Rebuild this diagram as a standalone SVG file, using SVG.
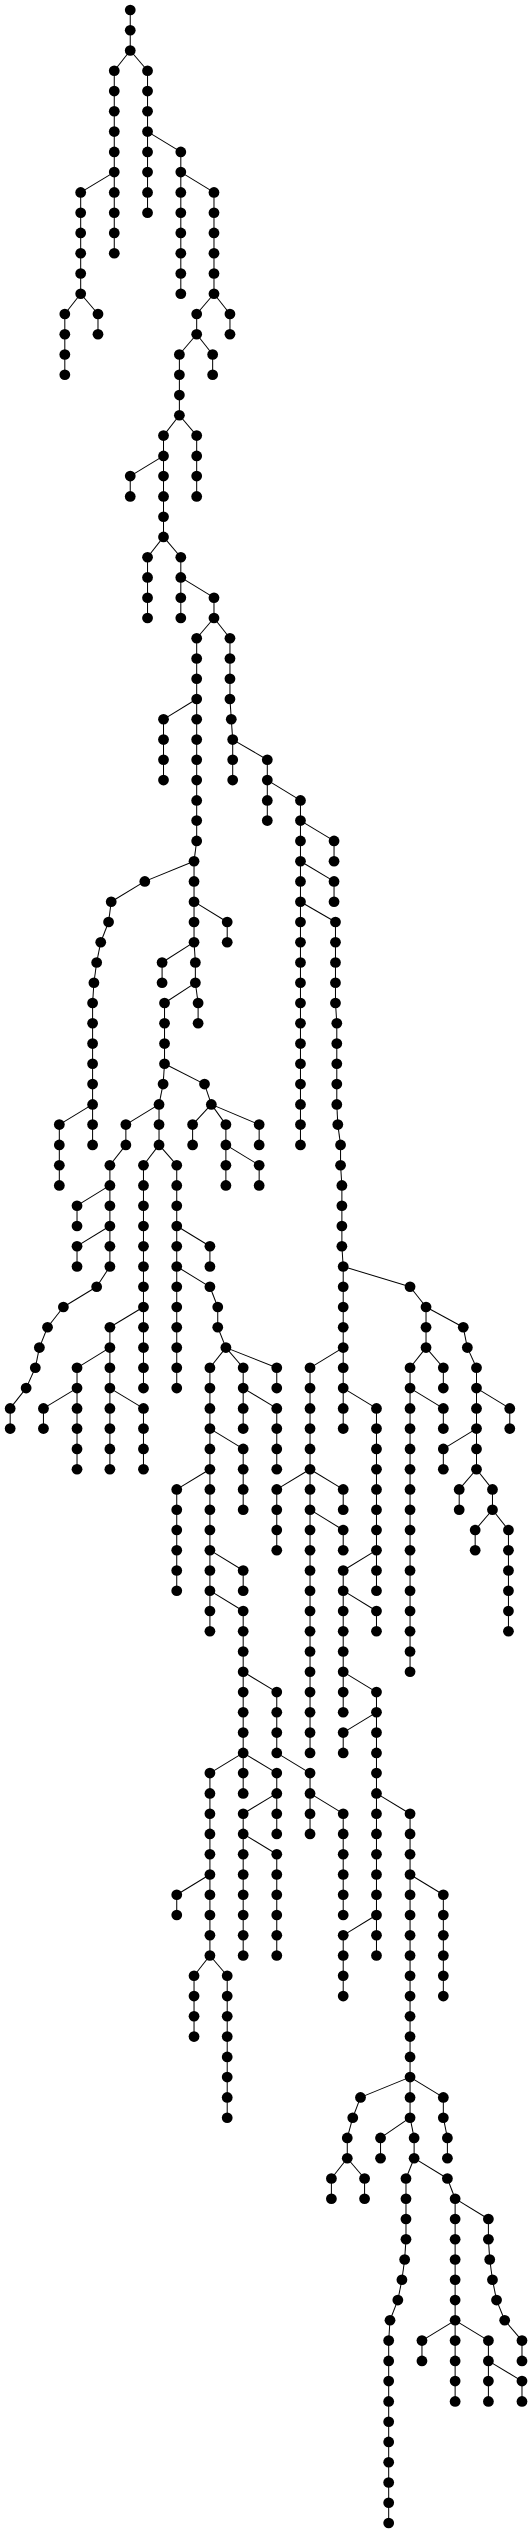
<svg xmlns="http://www.w3.org/2000/svg" width="532" height="2533" viewBox="0 0 532 2533">
<style>
rect.bg{fill:#fff}
#edges path{fill:none;stroke:#000;stroke-width:1}
circle{fill:#000;stroke:none;r:5.3px}
</style>
<rect class="bg" width="532" height="2533"/>
<g id="graph" transform="scale(1.0175 1)">
<g id="edges">
<path d="M128 10L128 30.3"/><path d="M128 30.3L128 50.5"/>
<path d="M128 50.5L112.3 70.8"/><path d="M128 50.5L145 70.8"/>
<path d="M112.3 70.8L112.3 91.1"/><path d="M145 70.8L145 91.1"/>
<path d="M112.3 91.1L112.3 111.3"/><path d="M145 91.1L145 111.3"/>
<path d="M112.3 111.3L112.3 131.6"/><path d="M145 111.3L145 131.6"/>
<path d="M112.3 131.6L112.3 151.9"/><path d="M145 131.6L145 151.9"/><path d="M145 131.6L177.7 151.9"/>
<path d="M112.3 151.9L112.3 172.1"/><path d="M145 151.9L145 172.1"/><path d="M177.7 151.9L177.7 172.1"/>
<path d="M112.3 172.1L79.3 192.4"/><path d="M112.3 172.1L112.3 192.4"/><path d="M145 172.1L145 192.4"/><path d="M177.7 172.1L177.7 192.4"/><path d="M177.7 172.1L210.3 192.4"/>
<path d="M79.3 192.4L79.3 212.7"/><path d="M112.3 192.4L112.3 212.7"/><path d="M145 192.4L145 212.7"/><path d="M177.7 192.4L177.7 212.7"/><path d="M210.3 192.4L210.3 212.7"/>
<path d="M79.3 212.7L79.3 232.9"/><path d="M112.3 212.7L112.3 232.9"/><path d="M177.7 212.7L177.7 232.9"/><path d="M210.3 212.7L210.3 232.9"/>
<path d="M79.3 232.9L79.3 253.2"/><path d="M112.3 232.9L112.3 253.2"/><path d="M177.7 232.9L177.7 253.2"/><path d="M210.3 232.9L210.3 253.2"/>
<path d="M79.3 253.2L79.3 273.5"/><path d="M177.7 253.2L177.7 273.5"/><path d="M210.3 253.2L210.3 273.5"/>
<path d="M79.3 273.5L79.3 293.7"/><path d="M177.7 273.5L177.7 293.7"/><path d="M210.3 273.5L210.3 293.7"/>
<path d="M79.3 293.7L63.7 314"/><path d="M79.3 293.7L96.3 314"/><path d="M210.3 293.7L193.3 314"/><path d="M210.3 293.7L226 314"/>
<path d="M63.7 314L63.7 334.3"/><path d="M96.3 314L96.3 334.3"/><path d="M193.3 314L193.3 334.3"/><path d="M226 314L226 334.3"/>
<path d="M63.7 334.3L63.7 354.5"/><path d="M193.3 334.3L176.3 354.5"/><path d="M193.3 334.3L209 354.5"/>
<path d="M63.7 354.5L63.7 374.8"/><path d="M176.3 354.5L176.3 374.8"/><path d="M209 354.5L209 374.8"/>
<path d="M176.3 374.8L176.3 395.1"/><path d="M176.3 395.1L176.3 415.3"/>
<path d="M176.3 415.3L160.7 435.6"/><path d="M176.3 415.3L193.3 435.6"/>
<path d="M160.7 435.6L160.7 455.9"/><path d="M193.3 435.6L193.3 455.9"/>
<path d="M160.7 455.9L128 476.1"/><path d="M160.7 455.9L160.7 476.1"/><path d="M193.3 455.9L193.3 476.1"/>
<path d="M128 476.1L128 496.4"/><path d="M160.7 476.1L160.7 496.4"/><path d="M193.3 476.1L193.3 496.4"/>
<path d="M160.7 496.4L160.7 516.7"/><path d="M160.7 516.7L160.7 536.9"/>
<path d="M160.7 536.9L145 557.2"/><path d="M160.7 536.9L177.7 557.2"/>
<path d="M145 557.2L145 577.4"/><path d="M177.7 557.2L177.7 577.4"/>
<path d="M145 577.4L145 597.7"/><path d="M177.7 577.4L177.7 597.7"/><path d="M177.7 577.4L210.3 597.7"/>
<path d="M145 597.7L145 618"/><path d="M177.7 597.7L177.7 618"/><path d="M210.3 597.7L210.3 618"/>
<path d="M210.3 618L193.3 638.2"/><path d="M210.3 618L226 638.2"/>
<path d="M193.3 638.2L193.3 658.5"/><path d="M226 638.2L226 658.5"/>
<path d="M193.3 658.5L193.3 678.8"/><path d="M226 658.5L226 678.8"/>
<path d="M193.3 678.8L193.3 699"/><path d="M226 678.8L226 699"/>
<path d="M193.3 699L160.7 719.3"/><path d="M193.3 699L193.3 719.3"/><path d="M226 699L227.3 719.3"/>
<path d="M160.7 719.3L160.7 739.6"/><path d="M193.3 719.3L193.3 739.6"/><path d="M227.3 719.3L228.7 739.6"/>
<path d="M160.7 739.6L160.7 759.8"/><path d="M193.3 739.6L193.3 759.8"/><path d="M228.7 739.6L228.7 759.8"/><path d="M228.7 739.6L262.7 759.8"/>
<path d="M160.7 759.8L160.7 780.1"/><path d="M193.3 759.8L193.3 780.1"/><path d="M228.7 759.8L228.7 780.1"/><path d="M262.7 759.8L262.7 780.1"/>
<path d="M193.3 780.1L193.3 800.4"/><path d="M262.7 780.1L262.7 800.4"/><path d="M262.7 780.1L295.3 800.4"/>
<path d="M193.3 800.4L193.3 820.6"/><path d="M262.7 800.4L262.7 820.6"/><path d="M295.3 800.4L295.3 820.6"/>
<path d="M193.3 820.6L193.3 840.9"/><path d="M295.3 820.6L295.3 840.9"/><path d="M295.3 820.6L328.3 840.9"/>
<path d="M193.3 840.9L190.7 861.2"/><path d="M295.3 840.9L295.3 861.2"/><path d="M328.3 840.9L328.3 861.2"/>
<path d="M190.7 861.2L142.3 881.4"/><path d="M190.7 861.2L190.7 881.4"/><path d="M295.3 861.2L295.3 881.4"/><path d="M295.3 861.2L328.3 881.4"/>
<path d="M142.3 881.4L109.3 901.7"/><path d="M190.7 881.4L190.7 901.7"/><path d="M295.3 881.4L295.3 901.7"/><path d="M328.3 881.4L328.3 901.7"/>
<path d="M109.3 901.7L106.7 922"/><path d="M190.7 901.7L190.7 922"/><path d="M190.7 901.7L223.3 922"/><path d="M295.3 901.7L295.3 922"/><path d="M295.3 901.7L329.7 922"/>
<path d="M106.7 922L99 942.2"/><path d="M190.7 922L190.7 942.2"/><path d="M223.3 922L223.3 942.2"/><path d="M295.3 922L295.3 942.2"/><path d="M329.7 922L329.7 942.2"/>
<path d="M99 942.2L95 962.5"/><path d="M190.7 942.2L159.3 962.5"/><path d="M190.7 942.2L192 962.5"/><path d="M295.3 942.2L295.3 962.5"/><path d="M329.7 942.2L329.7 962.5"/>
<path d="M95 962.5L92.3 982.8"/><path d="M159.3 962.5L159.3 982.8"/><path d="M192 962.5L192 982.8"/><path d="M295.3 962.5L295.3 982.8"/><path d="M329.7 962.5L329.7 982.8"/>
<path d="M92.3 982.8L91 1003"/><path d="M192 982.8L161.7 1003"/><path d="M192 982.8L194.7 1003"/><path d="M295.3 982.8L295.3 1003"/><path d="M329.7 982.8L329.7 1003"/>
<path d="M91 1003L91 1023.3"/><path d="M161.7 1003L161.7 1023.3"/><path d="M194.7 1003L194.7 1023.3"/><path d="M295.3 1003L295.3 1023.3"/><path d="M329.7 1003L331 1023.3"/>
<path d="M91 1023.3L91 1043.6"/><path d="M161.7 1023.3L161.7 1043.6"/><path d="M295.3 1023.3L295.3 1043.6"/><path d="M331 1023.3L331 1043.6"/>
<path d="M91 1043.6L91 1063.8"/><path d="M161.7 1043.6L161.7 1063.8"/><path d="M295.3 1043.6L295.3 1063.8"/><path d="M331 1043.6L331 1063.8"/>
<path d="M91 1063.8L91 1084.1"/><path d="M161.7 1063.8L160.3 1084.1"/><path d="M161.7 1063.8L201 1084.1"/><path d="M295.3 1063.8L295.3 1084.1"/><path d="M331 1063.8L331 1084.1"/>
<path d="M91 1084.1L91 1104.4"/><path d="M160.3 1084.1L156.3 1104.4"/><path d="M201 1084.1L207.7 1104.4"/><path d="M295.3 1084.1L295.3 1104.4"/><path d="M331 1084.1L331 1104.4"/>
<path d="M91 1104.4L58.3 1124.6"/><path d="M91 1104.4L91 1124.6"/><path d="M156.3 1104.4L123.7 1124.6"/><path d="M156.3 1104.4L156.3 1124.6"/><path d="M207.7 1104.4L189.3 1124.6"/><path d="M207.7 1104.4L222 1124.6"/><path d="M207.7 1104.4L254.7 1124.6"/><path d="M295.3 1104.4L295.3 1124.6"/><path d="M331 1104.4L332 1124.6"/>
<path d="M58.3 1124.6L58.3 1144.9"/><path d="M91 1124.6L91 1144.9"/><path d="M123.7 1124.6L123.7 1144.9"/><path d="M156.3 1124.6L156.3 1144.9"/><path d="M189.3 1124.6L189.3 1144.9"/><path d="M222 1124.6L222 1144.9"/><path d="M254.7 1124.6L254.7 1144.9"/><path d="M295.3 1124.6L295.3 1144.9"/><path d="M332 1124.6L334.7 1144.9"/>
<path d="M58.3 1144.9L58.3 1165.2"/><path d="M123.7 1144.9L108 1165.2"/><path d="M156.3 1144.9L141 1165.2"/><path d="M156.3 1144.9L173.7 1165.2"/><path d="M222 1144.9L222 1165.2"/><path d="M222 1144.9L254.7 1165.2"/><path d="M334.7 1144.9L334.7 1165.2"/>
<path d="M58.3 1165.2L58.3 1185.4"/><path d="M108 1165.2L108 1185.4"/><path d="M141 1165.2L141 1185.4"/><path d="M173.7 1165.2L173.7 1185.4"/><path d="M222 1165.2L222 1185.4"/><path d="M254.7 1165.2L254.7 1185.4"/><path d="M334.7 1165.2L336 1185.4"/>
<path d="M108 1185.4L75.7 1205.7"/><path d="M108 1185.4L108 1205.7"/><path d="M141 1185.4L141 1205.7"/><path d="M173.7 1185.4L173.7 1205.7"/><path d="M336 1185.4L336 1205.7"/>
<path d="M75.7 1205.7L75.7 1226"/><path d="M108 1205.7L108 1226"/><path d="M141 1205.7L141 1226"/><path d="M173.7 1205.7L173.7 1226"/><path d="M336 1205.7L336 1226"/>
<path d="M108 1226L75.7 1246.2"/><path d="M108 1226L108 1246.2"/><path d="M141 1226L141 1246.2"/><path d="M173.7 1226L173.7 1246.2"/><path d="M173.7 1226L206.3 1246.2"/><path d="M336 1226L336 1246.2"/>
<path d="M75.7 1246.2L75.7 1266.5"/><path d="M108 1246.2L108 1266.5"/><path d="M141 1246.2L141 1266.5"/><path d="M173.7 1246.2L173.7 1266.5"/><path d="M206.3 1246.2L206.3 1266.5"/><path d="M336 1246.2L337.3 1266.5"/>
<path d="M108 1266.5L95 1286.8"/><path d="M141 1266.5L141 1286.8"/><path d="M173.7 1266.5L173.7 1286.8"/><path d="M173.7 1266.5L206.3 1286.8"/><path d="M337.3 1266.5L337.3 1286.8"/><path d="M337.3 1266.5L403 1286.8"/>
<path d="M95 1286.8L62.3 1307"/><path d="M141 1286.8L141 1307"/><path d="M173.7 1286.8L173.7 1307"/><path d="M206.3 1286.8L214 1307"/><path d="M337.3 1286.8L337.3 1307"/><path d="M403 1286.8L418.7 1307"/>
<path d="M62.3 1307L46.7 1327.3"/><path d="M141 1307L108 1327.3"/><path d="M141 1307L141 1327.3"/><path d="M173.7 1307L173.7 1327.3"/><path d="M214 1307L214 1327.3"/><path d="M337.3 1307L337.3 1327.3"/><path d="M418.7 1307L418.7 1327.3"/><path d="M418.7 1307L455.3 1327.3"/>
<path d="M46.7 1327.3L38.7 1347.6"/><path d="M108 1327.3L108 1347.6"/><path d="M141 1327.3L141 1347.6"/><path d="M173.7 1327.3L173.7 1347.6"/><path d="M214 1327.3L222 1347.6"/><path d="M337.3 1327.3L337.3 1347.6"/><path d="M418.7 1327.3L418.7 1347.6"/><path d="M455.3 1327.3L459.3 1347.6"/>
<path d="M38.7 1347.6L34.7 1367.8"/><path d="M108 1347.6L75.7 1367.8"/><path d="M108 1347.6L108 1367.8"/><path d="M141 1347.6L141 1367.8"/><path d="M173.7 1347.6L173.7 1367.8"/><path d="M222 1347.6L206.3 1367.8"/><path d="M222 1347.6L239 1367.8"/><path d="M222 1347.6L272 1367.8"/><path d="M337.3 1347.6L304.7 1367.8"/><path d="M337.3 1347.6L337.3 1367.8"/><path d="M418.7 1347.6L403 1367.8"/><path d="M418.7 1347.6L435.7 1367.8"/><path d="M459.3 1347.6L468.3 1367.8"/>
<path d="M34.7 1367.8L25.7 1388.1"/><path d="M75.7 1367.8L75.7 1388.1"/><path d="M108 1367.8L108 1388.1"/><path d="M141 1367.8L141 1388.1"/><path d="M173.7 1367.8L173.7 1388.1"/><path d="M206.3 1367.8L206.3 1388.1"/><path d="M239 1367.8L239 1388.1"/><path d="M272 1367.8L272 1388.1"/><path d="M304.7 1367.8L304.7 1388.1"/><path d="M337.3 1367.8L337.3 1388.1"/><path d="M403 1367.8L403 1388.1"/><path d="M435.7 1367.8L435.7 1388.1"/><path d="M468.3 1367.8L468.3 1388.1"/>
<path d="M25.7 1388.1L10 1408.4"/><path d="M75.7 1388.1L42.7 1408.4"/><path d="M75.7 1388.1L75.7 1408.4"/><path d="M108 1388.1L108 1408.4"/><path d="M108 1388.1L141 1408.4"/><path d="M206.3 1388.1L206.3 1408.4"/><path d="M239 1388.1L239 1408.4"/><path d="M239 1388.1L272 1408.4"/><path d="M304.7 1388.1L304.7 1408.4"/><path d="M337.3 1388.1L337.3 1408.4"/><path d="M337.3 1388.1L370 1408.4"/><path d="M403 1388.1L403 1408.4"/><path d="M403 1388.1L435.7 1408.4"/><path d="M468.3 1388.1L468.3 1408.4"/><path d="M468.3 1388.1L501 1408.4"/>
<path d="M10 1408.4L10 1428.6"/><path d="M42.7 1408.4L42.7 1428.6"/><path d="M75.7 1408.4L75.7 1428.6"/><path d="M108 1408.4L108 1428.6"/><path d="M141 1408.4L141 1428.6"/><path d="M206.3 1408.4L206.3 1428.6"/><path d="M239 1408.4L239 1428.6"/><path d="M272 1408.4L272 1428.6"/><path d="M304.7 1408.4L304.7 1428.6"/><path d="M337.3 1408.4L337.3 1428.6"/><path d="M370 1408.4L370 1428.6"/><path d="M403 1408.4L403 1428.6"/><path d="M435.7 1408.4L435.7 1428.6"/><path d="M468.3 1408.4L468.3 1428.6"/><path d="M501 1408.4L501 1428.6"/>
<path d="M75.7 1428.6L75.7 1448.9"/><path d="M108 1428.6L108 1448.9"/><path d="M141 1428.6L141 1448.9"/><path d="M206.3 1428.6L206.3 1448.9"/><path d="M206.3 1428.6L239 1448.9"/><path d="M272 1428.6L272 1448.9"/><path d="M304.7 1428.6L304.7 1448.9"/><path d="M370 1428.6L370 1448.9"/><path d="M403 1428.6L403 1448.9"/><path d="M468.3 1428.6L435.7 1448.9"/><path d="M468.3 1428.6L468.3 1448.9"/>
<path d="M75.7 1448.9L75.7 1469.2"/><path d="M108 1448.9L108 1469.2"/><path d="M141 1448.9L141 1469.2"/><path d="M206.3 1448.9L206.3 1469.2"/><path d="M239 1448.9L239 1469.2"/><path d="M272 1448.9L272 1469.2"/><path d="M304.7 1448.9L304.7 1469.2"/><path d="M370 1448.9L370 1469.2"/><path d="M403 1448.9L403 1469.2"/><path d="M435.7 1448.9L435.7 1469.2"/><path d="M468.3 1448.9L468.3 1469.2"/>
<path d="M206.3 1469.2L173.7 1489.4"/><path d="M206.3 1469.2L206.3 1489.4"/><path d="M239 1469.2L239 1489.4"/><path d="M304.7 1469.2L272 1489.4"/><path d="M304.7 1469.2L304.7 1489.4"/><path d="M304.7 1469.2L337.3 1489.4"/><path d="M370 1469.2L370 1489.4"/><path d="M403 1469.2L403 1489.4"/><path d="M468.3 1469.2L451.3 1489.4"/><path d="M468.3 1469.2L484 1489.4"/>
<path d="M173.7 1489.4L173.7 1509.7"/><path d="M206.3 1489.4L206.3 1509.7"/><path d="M239 1489.4L239 1509.7"/><path d="M272 1489.4L272 1509.7"/><path d="M304.7 1489.4L304.7 1509.7"/><path d="M337.3 1489.4L337.3 1509.7"/><path d="M370 1489.4L370 1509.7"/><path d="M403 1489.4L403 1509.7"/><path d="M451.3 1489.4L451.3 1509.7"/><path d="M484 1489.4L484 1509.7"/>
<path d="M173.7 1509.7L173.7 1530"/><path d="M206.3 1509.7L206.3 1530"/><path d="M272 1509.7L272 1530"/><path d="M304.7 1509.7L304.7 1530"/><path d="M304.7 1509.7L337.3 1530"/><path d="M370 1509.7L370 1530"/><path d="M403 1509.7L403 1530"/><path d="M484 1509.7L467 1530"/><path d="M484 1509.7L499.7 1530"/>
<path d="M173.7 1530L173.7 1550.2"/><path d="M206.3 1530L206.3 1550.2"/><path d="M272 1530L272 1550.2"/><path d="M304.7 1530L304.7 1550.2"/><path d="M337.3 1530L337.3 1550.2"/><path d="M370 1530L370 1550.2"/><path d="M403 1530L403 1550.2"/><path d="M467 1530L467 1550.2"/><path d="M499.7 1530L499.7 1550.2"/>
<path d="M173.7 1550.2L173.7 1570.5"/><path d="M206.3 1550.2L206.3 1570.5"/><path d="M206.3 1550.2L239 1570.5"/><path d="M304.7 1550.2L304.7 1570.5"/><path d="M370 1550.2L337.3 1570.5"/><path d="M370 1550.2L370 1570.5"/><path d="M403 1550.2L403 1570.5"/><path d="M499.7 1550.2L499.7 1570.5"/>
<path d="M173.7 1570.5L173.7 1590.7"/><path d="M206.3 1570.5L206.3 1590.7"/><path d="M239 1570.5L239 1590.7"/><path d="M304.7 1570.5L304.7 1590.7"/><path d="M337.3 1570.5L337.3 1590.7"/><path d="M370 1570.5L370 1590.7"/><path d="M403 1570.5L403 1590.7"/><path d="M499.7 1570.5L499.7 1590.7"/>
<path d="M206.3 1590.7L206.3 1611"/><path d="M206.3 1590.7L239 1611"/><path d="M304.7 1590.7L304.7 1611"/><path d="M337.3 1590.7L337.3 1611"/><path d="M337.3 1590.7L370 1611"/><path d="M403 1590.7L403 1611"/><path d="M499.7 1590.7L499.7 1611"/>
<path d="M206.3 1611L206.3 1631.3"/><path d="M239 1611L239 1631.3"/><path d="M304.7 1611L304.7 1631.3"/><path d="M337.3 1611L337.3 1631.3"/><path d="M370 1611L370 1631.3"/><path d="M403 1611L403 1631.3"/><path d="M499.7 1611L499.7 1631.3"/>
<path d="M239 1631.3L239 1651.5"/><path d="M304.7 1631.3L304.7 1651.5"/><path d="M337.3 1631.3L337.3 1651.5"/><path d="M403 1631.3L403 1651.5"/>
<path d="M239 1651.5L239 1671.8"/><path d="M304.7 1651.5L304.7 1671.8"/><path d="M337.3 1651.5L337.3 1671.8"/><path d="M403 1651.5L403 1671.8"/>
<path d="M239 1671.8L239 1692.1"/><path d="M239 1671.8L272 1692.1"/><path d="M304.7 1671.8L304.7 1692.1"/><path d="M337.3 1671.8L337.3 1692.1"/><path d="M337.3 1671.8L370 1692.1"/>
<path d="M239 1692.1L239 1712.3"/><path d="M272 1692.1L272 1712.3"/><path d="M304.7 1692.1L304.7 1712.3"/><path d="M337.3 1692.1L337.3 1712.3"/><path d="M370 1692.1L370 1712.3"/>
<path d="M239 1712.3L239 1732.6"/><path d="M272 1712.3L272 1732.6"/><path d="M304.7 1712.3L304.7 1732.6"/><path d="M370 1712.3L337.3 1732.6"/><path d="M370 1712.3L370 1732.6"/>
<path d="M239 1732.6L239 1752.9"/><path d="M272 1732.6L272 1752.9"/><path d="M304.7 1732.6L304.7 1752.9"/><path d="M337.3 1732.6L337.3 1752.9"/><path d="M370 1732.6L370 1752.9"/>
<path d="M239 1752.9L206.3 1773.1"/><path d="M239 1752.9L239 1773.1"/><path d="M239 1752.9L272 1773.1"/><path d="M272 1752.9L304.7 1773.1"/><path d="M370 1752.9L370 1773.1"/>
<path d="M206.3 1773.1L206.3 1793.4"/><path d="M239 1773.1L239 1793.4"/><path d="M272 1773.1L272 1793.4"/><path d="M304.7 1773.1L304.7 1793.4"/><path d="M370 1773.1L370 1793.4"/>
<path d="M206.3 1793.4L206.3 1813.7"/><path d="M272 1793.4L239 1813.7"/><path d="M272 1793.4L272 1813.7"/><path d="M304.7 1793.4L304.7 1813.7"/><path d="M304.7 1793.4L337.3 1813.7"/><path d="M370 1793.4L370 1813.7"/><path d="M370 1793.4L403 1813.7"/>
<path d="M206.3 1813.7L206.3 1833.9"/><path d="M239 1813.7L239 1833.9"/><path d="M272 1813.7L272 1833.9"/><path d="M304.7 1813.7L304.7 1833.9"/><path d="M337.3 1813.7L337.3 1833.9"/><path d="M370 1813.7L370 1833.9"/><path d="M403 1813.7L403 1833.9"/>
<path d="M206.3 1833.9L206.3 1854.2"/><path d="M239 1833.9L239 1854.2"/><path d="M239 1833.9L272 1854.2"/><path d="M337.3 1833.9L337.3 1854.2"/><path d="M370 1833.9L370 1854.2"/><path d="M403 1833.9L403 1854.2"/>
<path d="M206.3 1854.2L206.3 1874.5"/><path d="M239 1854.2L239 1874.5"/><path d="M272 1854.2L272 1874.5"/><path d="M337.3 1854.2L337.3 1874.5"/><path d="M370 1854.2L370 1874.5"/><path d="M403 1854.2L403 1874.5"/>
<path d="M206.3 1874.5L173.7 1894.7"/><path d="M206.3 1874.5L206.3 1894.7"/><path d="M239 1874.5L239 1894.7"/><path d="M272 1874.5L272 1894.7"/><path d="M337.3 1874.5L337.3 1894.7"/><path d="M370 1874.5L370 1894.7"/><path d="M403 1874.5L403 1894.7"/><path d="M403 1874.5L435.7 1894.7"/>
<path d="M173.7 1894.7L173.7 1915"/><path d="M206.3 1894.7L206.3 1915"/><path d="M239 1894.7L239 1915"/><path d="M272 1894.7L272 1915"/><path d="M337.3 1894.7L337.3 1915"/><path d="M370 1894.7L370 1915"/><path d="M403 1894.7L403 1915"/><path d="M435.7 1894.7L435.7 1915"/>
<path d="M206.3 1915L206.3 1935.3"/><path d="M239 1915L239 1935.3"/><path d="M272 1915L272 1935.3"/><path d="M370 1915L337.3 1935.3"/><path d="M370 1915L370 1935.3"/><path d="M403 1915L403 1935.3"/><path d="M435.7 1915L435.7 1935.3"/>
<path d="M206.3 1935.3L206.3 1955.5"/><path d="M239 1935.3L239 1955.5"/><path d="M272 1935.3L272 1955.5"/><path d="M337.3 1935.3L337.3 1955.5"/><path d="M370 1935.3L370 1955.5"/><path d="M403 1935.3L403 1955.5"/><path d="M435.7 1935.3L435.7 1955.5"/>
<path d="M206.3 1955.5L190.7 1975.8"/><path d="M206.3 1955.5L223.3 1975.8"/><path d="M337.3 1955.5L337.3 1975.8"/><path d="M403 1955.5L403 1975.8"/><path d="M435.7 1955.5L435.7 1975.8"/>
<path d="M190.7 1975.8L190.7 1996.1"/><path d="M223.3 1975.8L223.3 1996.1"/><path d="M337.3 1975.8L337.3 1996.1"/><path d="M403 1975.8L403 1996.1"/><path d="M435.7 1975.8L435.7 1996.1"/>
<path d="M190.7 1996.1L190.7 2016.3"/><path d="M223.3 1996.1L223.3 2016.3"/><path d="M403 1996.1L403 2016.3"/>
<path d="M190.7 2016.3L190.7 2036.6"/><path d="M223.3 2016.3L223.3 2036.6"/><path d="M403 2016.3L403 2036.6"/>
<path d="M223.3 2036.6L223.3 2056.9"/><path d="M403 2036.6L403 2056.9"/>
<path d="M223.3 2056.9L223.3 2077.1"/><path d="M403 2056.9L403 2077.1"/>
<path d="M223.3 2077.1L223.3 2097.4"/><path d="M403 2077.1L354.3 2097.4"/><path d="M403 2077.1L403 2097.4"/><path d="M403 2077.1L435.7 2097.4"/>
<path d="M223.3 2097.4L223.3 2117.7"/><path d="M354.3 2097.4L346.7 2117.7"/><path d="M403 2097.4L403 2117.7"/><path d="M435.7 2097.4L435.7 2117.7"/>
<path d="M346.7 2117.7L341.3 2137.9"/><path d="M403 2117.7L374 2137.9"/><path d="M403 2117.7L407 2137.9"/><path d="M435.7 2117.7L439.7 2137.9"/>
<path d="M341.3 2137.9L341.3 2158.2"/><path d="M374 2137.9L374 2158.2"/><path d="M407 2137.9L407 2158.2"/><path d="M439.7 2137.9L439.7 2158.2"/>
<path d="M341.3 2158.2L325.7 2178.5"/><path d="M341.3 2158.2L358.3 2178.5"/><path d="M407 2158.2L399 2178.5"/><path d="M407 2158.2L439.7 2178.5"/>
<path d="M325.7 2178.5L325.7 2198.7"/><path d="M358.3 2178.5L358.3 2198.7"/><path d="M399 2178.5L399 2198.7"/><path d="M439.7 2178.5L447.3 2198.7"/>
<path d="M399 2198.7L399 2219"/><path d="M447.3 2198.7L447.3 2219"/><path d="M447.3 2198.7L480 2219"/>
<path d="M399 2219L399 2239.3"/><path d="M447.3 2219L447.3 2239.3"/><path d="M480 2219L480 2239.3"/>
<path d="M399 2239.3L397.7 2259.5"/><path d="M447.3 2239.3L447.3 2259.5"/><path d="M480 2239.3L481.3 2259.5"/>
<path d="M397.7 2259.5L395 2279.8"/><path d="M447.3 2259.5L447.3 2279.8"/><path d="M481.3 2259.5L484 2279.8"/>
<path d="M395 2279.8L391 2300.1"/><path d="M447.3 2279.8L447.3 2300.1"/><path d="M484 2279.8L488 2300.1"/>
<path d="M391 2300.1L383.3 2320.3"/><path d="M447.3 2300.1L447.3 2320.3"/><path d="M488 2300.1L496 2320.3"/>
<path d="M383.3 2320.3L382 2340.6"/><path d="M447.3 2320.3L414.7 2340.6"/><path d="M447.3 2320.3L447.3 2340.6"/><path d="M447.3 2320.3L480 2340.6"/><path d="M496 2320.3L513 2340.6"/>
<path d="M382 2340.6L382 2360.9"/><path d="M414.7 2340.6L414.7 2360.9"/><path d="M447.3 2340.6L447.3 2360.9"/><path d="M480 2340.6L480 2360.9"/><path d="M513 2340.6L513 2360.9"/>
<path d="M382 2360.9L382 2381.1"/><path d="M447.3 2360.9L447.3 2381.1"/><path d="M480 2360.9L480 2381.1"/><path d="M480 2360.9L513 2381.1"/>
<path d="M382 2381.1L382 2401.4"/><path d="M447.3 2381.1L447.3 2401.4"/><path d="M480 2381.1L480 2401.4"/><path d="M513 2381.1L513 2401.4"/>
<path d="M382 2401.4L382 2421.7"/><path d="M382 2421.7L382 2441.9"/><path d="M382 2441.9L382 2462.2"/><path d="M382 2462.2L382 2482.5"/><path d="M382 2482.5L382 2502.7"/><path d="M382 2502.7L382 2523"/>
</g>
<g id="n0-0"><circle cx="128" cy="10"/></g>
<g id="n1-0"><circle cx="128" cy="30.3"/></g>
<g id="n2-0"><circle cx="128" cy="50.5"/></g>
<g id="n3-0"><circle cx="112.3" cy="70.8"/></g><g id="n3-1"><circle cx="145" cy="70.8"/></g>
<g id="n4-0"><circle cx="112.3" cy="91.1"/></g><g id="n4-1"><circle cx="145" cy="91.1"/></g>
<g id="n5-0"><circle cx="112.3" cy="111.3"/></g><g id="n5-1"><circle cx="145" cy="111.3"/></g>
<g id="n6-0"><circle cx="112.3" cy="131.6"/></g><g id="n6-1"><circle cx="145" cy="131.6"/></g>
<g id="n7-0"><circle cx="112.3" cy="151.9"/></g><g id="n7-1"><circle cx="145" cy="151.9"/></g><g id="n7-2"><circle cx="177.7" cy="151.9"/></g>
<g id="n8-0"><circle cx="112.3" cy="172.1"/></g><g id="n8-1"><circle cx="145" cy="172.1"/></g><g id="n8-2"><circle cx="177.7" cy="172.1"/></g>
<g id="n9-0"><circle cx="79.3" cy="192.4"/></g><g id="n9-1"><circle cx="112.3" cy="192.4"/></g><g id="n9-2"><circle cx="145" cy="192.4"/></g><g id="n9-3"><circle cx="177.7" cy="192.4"/></g><g id="n9-4"><circle cx="210.3" cy="192.4"/></g>
<g id="n10-0"><circle cx="79.3" cy="212.7"/></g><g id="n10-1"><circle cx="112.3" cy="212.7"/></g><g id="n10-2"><circle cx="145" cy="212.7"/></g><g id="n10-3"><circle cx="177.7" cy="212.7"/></g><g id="n10-4"><circle cx="210.3" cy="212.7"/></g>
<g id="n11-0"><circle cx="79.3" cy="232.9"/></g><g id="n11-1"><circle cx="112.3" cy="232.9"/></g><g id="n11-2"><circle cx="177.7" cy="232.9"/></g><g id="n11-3"><circle cx="210.3" cy="232.9"/></g>
<g id="n12-0"><circle cx="79.3" cy="253.2"/></g><g id="n12-1"><circle cx="112.3" cy="253.2"/></g><g id="n12-2"><circle cx="177.7" cy="253.2"/></g><g id="n12-3"><circle cx="210.3" cy="253.2"/></g>
<g id="n13-0"><circle cx="79.3" cy="273.5"/></g><g id="n13-1"><circle cx="177.7" cy="273.5"/></g><g id="n13-2"><circle cx="210.3" cy="273.5"/></g>
<g id="n14-0"><circle cx="79.3" cy="293.7"/></g><g id="n14-1"><circle cx="177.7" cy="293.7"/></g><g id="n14-2"><circle cx="210.3" cy="293.7"/></g>
<g id="n15-0"><circle cx="63.7" cy="314"/></g><g id="n15-1"><circle cx="96.3" cy="314"/></g><g id="n15-2"><circle cx="193.3" cy="314"/></g><g id="n15-3"><circle cx="226" cy="314"/></g>
<g id="n16-0"><circle cx="63.7" cy="334.3"/></g><g id="n16-1"><circle cx="96.3" cy="334.3"/></g><g id="n16-2"><circle cx="193.3" cy="334.3"/></g><g id="n16-3"><circle cx="226" cy="334.3"/></g>
<g id="n17-0"><circle cx="63.7" cy="354.5"/></g><g id="n17-1"><circle cx="176.3" cy="354.5"/></g><g id="n17-2"><circle cx="209" cy="354.5"/></g>
<g id="n18-0"><circle cx="63.7" cy="374.8"/></g><g id="n18-1"><circle cx="176.3" cy="374.8"/></g><g id="n18-2"><circle cx="209" cy="374.8"/></g>
<g id="n19-0"><circle cx="176.3" cy="395.1"/></g>
<g id="n20-0"><circle cx="176.3" cy="415.3"/></g>
<g id="n21-0"><circle cx="160.7" cy="435.6"/></g><g id="n21-1"><circle cx="193.3" cy="435.6"/></g>
<g id="n22-0"><circle cx="160.7" cy="455.9"/></g><g id="n22-1"><circle cx="193.3" cy="455.9"/></g>
<g id="n23-0"><circle cx="128" cy="476.1"/></g><g id="n23-1"><circle cx="160.7" cy="476.1"/></g><g id="n23-2"><circle cx="193.3" cy="476.1"/></g>
<g id="n24-0"><circle cx="128" cy="496.4"/></g><g id="n24-1"><circle cx="160.7" cy="496.4"/></g><g id="n24-2"><circle cx="193.3" cy="496.4"/></g>
<g id="n25-0"><circle cx="160.7" cy="516.7"/></g>
<g id="n26-0"><circle cx="160.7" cy="536.9"/></g>
<g id="n27-0"><circle cx="145" cy="557.2"/></g><g id="n27-1"><circle cx="177.7" cy="557.2"/></g>
<g id="n28-0"><circle cx="145" cy="577.4"/></g><g id="n28-1"><circle cx="177.7" cy="577.4"/></g>
<g id="n29-0"><circle cx="145" cy="597.7"/></g><g id="n29-1"><circle cx="177.7" cy="597.7"/></g><g id="n29-2"><circle cx="210.3" cy="597.7"/></g>
<g id="n30-0"><circle cx="145" cy="618"/></g><g id="n30-1"><circle cx="177.7" cy="618"/></g><g id="n30-2"><circle cx="210.3" cy="618"/></g>
<g id="n31-0"><circle cx="193.3" cy="638.2"/></g><g id="n31-1"><circle cx="226" cy="638.2"/></g>
<g id="n32-0"><circle cx="193.3" cy="658.5"/></g><g id="n32-1"><circle cx="226" cy="658.5"/></g>
<g id="n33-0"><circle cx="193.3" cy="678.8"/></g><g id="n33-1"><circle cx="226" cy="678.8"/></g>
<g id="n34-0"><circle cx="193.3" cy="699"/></g><g id="n34-1"><circle cx="226" cy="699"/></g>
<g id="n35-0"><circle cx="160.7" cy="719.3"/></g><g id="n35-1"><circle cx="193.3" cy="719.3"/></g><g id="n35-2"><circle cx="227.3" cy="719.3"/></g>
<g id="n36-0"><circle cx="160.7" cy="739.6"/></g><g id="n36-1"><circle cx="193.3" cy="739.6"/></g><g id="n36-2"><circle cx="228.7" cy="739.6"/></g>
<g id="n37-0"><circle cx="160.7" cy="759.8"/></g><g id="n37-1"><circle cx="193.3" cy="759.8"/></g><g id="n37-2"><circle cx="228.7" cy="759.8"/></g><g id="n37-3"><circle cx="262.7" cy="759.8"/></g>
<g id="n38-0"><circle cx="160.7" cy="780.1"/></g><g id="n38-1"><circle cx="193.3" cy="780.1"/></g><g id="n38-2"><circle cx="228.7" cy="780.1"/></g><g id="n38-3"><circle cx="262.7" cy="780.1"/></g>
<g id="n39-0"><circle cx="193.3" cy="800.4"/></g><g id="n39-1"><circle cx="262.7" cy="800.4"/></g><g id="n39-2"><circle cx="295.3" cy="800.4"/></g>
<g id="n40-0"><circle cx="193.3" cy="820.6"/></g><g id="n40-1"><circle cx="262.7" cy="820.6"/></g><g id="n40-2"><circle cx="295.3" cy="820.6"/></g>
<g id="n41-0"><circle cx="193.3" cy="840.9"/></g><g id="n41-1"><circle cx="295.3" cy="840.9"/></g><g id="n41-2"><circle cx="328.3" cy="840.9"/></g>
<g id="n42-0"><circle cx="190.7" cy="861.2"/></g><g id="n42-1"><circle cx="295.3" cy="861.2"/></g><g id="n42-2"><circle cx="328.3" cy="861.2"/></g>
<g id="n43-0"><circle cx="142.3" cy="881.4"/></g><g id="n43-1"><circle cx="190.7" cy="881.4"/></g><g id="n43-2"><circle cx="295.3" cy="881.4"/></g><g id="n43-3"><circle cx="328.3" cy="881.4"/></g>
<g id="n44-0"><circle cx="109.3" cy="901.7"/></g><g id="n44-1"><circle cx="190.7" cy="901.7"/></g><g id="n44-2"><circle cx="295.3" cy="901.7"/></g><g id="n44-3"><circle cx="328.3" cy="901.7"/></g>
<g id="n45-0"><circle cx="106.7" cy="922"/></g><g id="n45-1"><circle cx="190.7" cy="922"/></g><g id="n45-2"><circle cx="223.3" cy="922"/></g><g id="n45-3"><circle cx="295.3" cy="922"/></g><g id="n45-4"><circle cx="329.7" cy="922"/></g>
<g id="n46-0"><circle cx="99" cy="942.2"/></g><g id="n46-1"><circle cx="190.7" cy="942.2"/></g><g id="n46-2"><circle cx="223.3" cy="942.2"/></g><g id="n46-3"><circle cx="295.3" cy="942.2"/></g><g id="n46-4"><circle cx="329.7" cy="942.2"/></g>
<g id="n47-0"><circle cx="95" cy="962.5"/></g><g id="n47-1"><circle cx="159.3" cy="962.5"/></g><g id="n47-2"><circle cx="192" cy="962.5"/></g><g id="n47-3"><circle cx="295.3" cy="962.5"/></g><g id="n47-4"><circle cx="329.7" cy="962.5"/></g>
<g id="n48-0"><circle cx="92.3" cy="982.8"/></g><g id="n48-1"><circle cx="159.3" cy="982.8"/></g><g id="n48-2"><circle cx="192" cy="982.8"/></g><g id="n48-3"><circle cx="295.3" cy="982.8"/></g><g id="n48-4"><circle cx="329.7" cy="982.8"/></g>
<g id="n49-0"><circle cx="91" cy="1003"/></g><g id="n49-1"><circle cx="161.7" cy="1003"/></g><g id="n49-2"><circle cx="194.7" cy="1003"/></g><g id="n49-3"><circle cx="295.3" cy="1003"/></g><g id="n49-4"><circle cx="329.7" cy="1003"/></g>
<g id="n50-0"><circle cx="91" cy="1023.3"/></g><g id="n50-1"><circle cx="161.7" cy="1023.3"/></g><g id="n50-2"><circle cx="194.7" cy="1023.3"/></g><g id="n50-3"><circle cx="295.3" cy="1023.3"/></g><g id="n50-4"><circle cx="331" cy="1023.3"/></g>
<g id="n51-0"><circle cx="91" cy="1043.6"/></g><g id="n51-1"><circle cx="161.7" cy="1043.6"/></g><g id="n51-2"><circle cx="295.3" cy="1043.6"/></g><g id="n51-3"><circle cx="331" cy="1043.6"/></g>
<g id="n52-0"><circle cx="91" cy="1063.8"/></g><g id="n52-1"><circle cx="161.7" cy="1063.8"/></g><g id="n52-2"><circle cx="295.3" cy="1063.8"/></g><g id="n52-3"><circle cx="331" cy="1063.8"/></g>
<g id="n53-0"><circle cx="91" cy="1084.1"/></g><g id="n53-1"><circle cx="160.3" cy="1084.1"/></g><g id="n53-2"><circle cx="201" cy="1084.1"/></g><g id="n53-3"><circle cx="295.3" cy="1084.1"/></g><g id="n53-4"><circle cx="331" cy="1084.1"/></g>
<g id="n54-0"><circle cx="91" cy="1104.4"/></g><g id="n54-1"><circle cx="156.3" cy="1104.4"/></g><g id="n54-2"><circle cx="207.7" cy="1104.4"/></g><g id="n54-3"><circle cx="295.3" cy="1104.4"/></g><g id="n54-4"><circle cx="331" cy="1104.4"/></g>
<g id="n55-0"><circle cx="58.3" cy="1124.6"/></g><g id="n55-1"><circle cx="91" cy="1124.6"/></g><g id="n55-2"><circle cx="123.7" cy="1124.6"/></g><g id="n55-3"><circle cx="156.3" cy="1124.6"/></g><g id="n55-4"><circle cx="189.3" cy="1124.6"/></g><g id="n55-5"><circle cx="222" cy="1124.6"/></g><g id="n55-6"><circle cx="254.7" cy="1124.6"/></g><g id="n55-7"><circle cx="295.3" cy="1124.6"/></g><g id="n55-8"><circle cx="332" cy="1124.6"/></g>
<g id="n56-0"><circle cx="58.3" cy="1144.9"/></g><g id="n56-1"><circle cx="91" cy="1144.9"/></g><g id="n56-2"><circle cx="123.7" cy="1144.9"/></g><g id="n56-3"><circle cx="156.3" cy="1144.9"/></g><g id="n56-4"><circle cx="189.3" cy="1144.9"/></g><g id="n56-5"><circle cx="222" cy="1144.9"/></g><g id="n56-6"><circle cx="254.7" cy="1144.9"/></g><g id="n56-7"><circle cx="295.3" cy="1144.9"/></g><g id="n56-8"><circle cx="334.7" cy="1144.9"/></g>
<g id="n57-0"><circle cx="58.3" cy="1165.2"/></g><g id="n57-1"><circle cx="108" cy="1165.2"/></g><g id="n57-2"><circle cx="141" cy="1165.2"/></g><g id="n57-3"><circle cx="173.7" cy="1165.2"/></g><g id="n57-4"><circle cx="222" cy="1165.2"/></g><g id="n57-5"><circle cx="254.7" cy="1165.2"/></g><g id="n57-6"><circle cx="334.7" cy="1165.2"/></g>
<g id="n58-0"><circle cx="58.3" cy="1185.4"/></g><g id="n58-1"><circle cx="108" cy="1185.4"/></g><g id="n58-2"><circle cx="141" cy="1185.4"/></g><g id="n58-3"><circle cx="173.7" cy="1185.4"/></g><g id="n58-4"><circle cx="222" cy="1185.4"/></g><g id="n58-5"><circle cx="254.7" cy="1185.4"/></g><g id="n58-6"><circle cx="336" cy="1185.4"/></g>
<g id="n59-0"><circle cx="75.7" cy="1205.7"/></g><g id="n59-1"><circle cx="108" cy="1205.7"/></g><g id="n59-2"><circle cx="141" cy="1205.7"/></g><g id="n59-3"><circle cx="173.7" cy="1205.7"/></g><g id="n59-4"><circle cx="336" cy="1205.7"/></g>
<g id="n60-0"><circle cx="75.7" cy="1226"/></g><g id="n60-1"><circle cx="108" cy="1226"/></g><g id="n60-2"><circle cx="141" cy="1226"/></g><g id="n60-3"><circle cx="173.7" cy="1226"/></g><g id="n60-4"><circle cx="336" cy="1226"/></g>
<g id="n61-0"><circle cx="75.7" cy="1246.2"/></g><g id="n61-1"><circle cx="108" cy="1246.2"/></g><g id="n61-2"><circle cx="141" cy="1246.2"/></g><g id="n61-3"><circle cx="173.7" cy="1246.2"/></g><g id="n61-4"><circle cx="206.3" cy="1246.2"/></g><g id="n61-5"><circle cx="336" cy="1246.2"/></g>
<g id="n62-0"><circle cx="75.7" cy="1266.5"/></g><g id="n62-1"><circle cx="108" cy="1266.5"/></g><g id="n62-2"><circle cx="141" cy="1266.5"/></g><g id="n62-3"><circle cx="173.7" cy="1266.5"/></g><g id="n62-4"><circle cx="206.3" cy="1266.5"/></g><g id="n62-5"><circle cx="337.3" cy="1266.5"/></g>
<g id="n63-0"><circle cx="95" cy="1286.8"/></g><g id="n63-1"><circle cx="141" cy="1286.8"/></g><g id="n63-2"><circle cx="173.7" cy="1286.8"/></g><g id="n63-3"><circle cx="206.3" cy="1286.8"/></g><g id="n63-4"><circle cx="337.3" cy="1286.8"/></g><g id="n63-5"><circle cx="403" cy="1286.8"/></g>
<g id="n64-0"><circle cx="62.3" cy="1307"/></g><g id="n64-1"><circle cx="141" cy="1307"/></g><g id="n64-2"><circle cx="173.7" cy="1307"/></g><g id="n64-3"><circle cx="214" cy="1307"/></g><g id="n64-4"><circle cx="337.3" cy="1307"/></g><g id="n64-5"><circle cx="418.7" cy="1307"/></g>
<g id="n65-0"><circle cx="46.7" cy="1327.3"/></g><g id="n65-1"><circle cx="108" cy="1327.3"/></g><g id="n65-2"><circle cx="141" cy="1327.3"/></g><g id="n65-3"><circle cx="173.7" cy="1327.3"/></g><g id="n65-4"><circle cx="214" cy="1327.3"/></g><g id="n65-5"><circle cx="337.3" cy="1327.3"/></g><g id="n65-6"><circle cx="418.7" cy="1327.3"/></g><g id="n65-7"><circle cx="455.3" cy="1327.3"/></g>
<g id="n66-0"><circle cx="38.7" cy="1347.6"/></g><g id="n66-1"><circle cx="108" cy="1347.6"/></g><g id="n66-2"><circle cx="141" cy="1347.6"/></g><g id="n66-3"><circle cx="173.7" cy="1347.6"/></g><g id="n66-4"><circle cx="222" cy="1347.6"/></g><g id="n66-5"><circle cx="337.3" cy="1347.6"/></g><g id="n66-6"><circle cx="418.7" cy="1347.6"/></g><g id="n66-7"><circle cx="459.3" cy="1347.6"/></g>
<g id="n67-0"><circle cx="34.7" cy="1367.8"/></g><g id="n67-1"><circle cx="75.7" cy="1367.8"/></g><g id="n67-2"><circle cx="108" cy="1367.8"/></g><g id="n67-3"><circle cx="141" cy="1367.8"/></g><g id="n67-4"><circle cx="173.7" cy="1367.8"/></g><g id="n67-5"><circle cx="206.3" cy="1367.8"/></g><g id="n67-6"><circle cx="239" cy="1367.8"/></g><g id="n67-7"><circle cx="272" cy="1367.8"/></g><g id="n67-8"><circle cx="304.7" cy="1367.8"/></g><g id="n67-9"><circle cx="337.3" cy="1367.8"/></g><g id="n67-10"><circle cx="403" cy="1367.8"/></g><g id="n67-11"><circle cx="435.7" cy="1367.8"/></g><g id="n67-12"><circle cx="468.3" cy="1367.8"/></g>
<g id="n68-0"><circle cx="25.7" cy="1388.1"/></g><g id="n68-1"><circle cx="75.7" cy="1388.1"/></g><g id="n68-2"><circle cx="108" cy="1388.1"/></g><g id="n68-3"><circle cx="141" cy="1388.1"/></g><g id="n68-4"><circle cx="173.7" cy="1388.1"/></g><g id="n68-5"><circle cx="206.3" cy="1388.1"/></g><g id="n68-6"><circle cx="239" cy="1388.1"/></g><g id="n68-7"><circle cx="272" cy="1388.1"/></g><g id="n68-8"><circle cx="304.7" cy="1388.1"/></g><g id="n68-9"><circle cx="337.3" cy="1388.1"/></g><g id="n68-10"><circle cx="403" cy="1388.1"/></g><g id="n68-11"><circle cx="435.7" cy="1388.1"/></g><g id="n68-12"><circle cx="468.3" cy="1388.1"/></g>
<g id="n69-0"><circle cx="10" cy="1408.4"/></g><g id="n69-1"><circle cx="42.7" cy="1408.4"/></g><g id="n69-2"><circle cx="75.7" cy="1408.4"/></g><g id="n69-3"><circle cx="108" cy="1408.4"/></g><g id="n69-4"><circle cx="141" cy="1408.4"/></g><g id="n69-5"><circle cx="206.3" cy="1408.4"/></g><g id="n69-6"><circle cx="239" cy="1408.4"/></g><g id="n69-7"><circle cx="272" cy="1408.4"/></g><g id="n69-8"><circle cx="304.7" cy="1408.4"/></g><g id="n69-9"><circle cx="337.3" cy="1408.4"/></g><g id="n69-10"><circle cx="370" cy="1408.4"/></g><g id="n69-11"><circle cx="403" cy="1408.4"/></g><g id="n69-12"><circle cx="435.7" cy="1408.4"/></g><g id="n69-13"><circle cx="468.3" cy="1408.4"/></g><g id="n69-14"><circle cx="501" cy="1408.4"/></g>
<g id="n70-0"><circle cx="10" cy="1428.6"/></g><g id="n70-1"><circle cx="42.7" cy="1428.6"/></g><g id="n70-2"><circle cx="75.7" cy="1428.6"/></g><g id="n70-3"><circle cx="108" cy="1428.6"/></g><g id="n70-4"><circle cx="141" cy="1428.6"/></g><g id="n70-5"><circle cx="206.3" cy="1428.6"/></g><g id="n70-6"><circle cx="239" cy="1428.6"/></g><g id="n70-7"><circle cx="272" cy="1428.6"/></g><g id="n70-8"><circle cx="304.7" cy="1428.6"/></g><g id="n70-9"><circle cx="337.3" cy="1428.6"/></g><g id="n70-10"><circle cx="370" cy="1428.6"/></g><g id="n70-11"><circle cx="403" cy="1428.6"/></g><g id="n70-12"><circle cx="435.7" cy="1428.6"/></g><g id="n70-13"><circle cx="468.3" cy="1428.6"/></g><g id="n70-14"><circle cx="501" cy="1428.6"/></g>
<g id="n71-0"><circle cx="75.7" cy="1448.9"/></g><g id="n71-1"><circle cx="108" cy="1448.9"/></g><g id="n71-2"><circle cx="141" cy="1448.9"/></g><g id="n71-3"><circle cx="206.3" cy="1448.9"/></g><g id="n71-4"><circle cx="239" cy="1448.9"/></g><g id="n71-5"><circle cx="272" cy="1448.9"/></g><g id="n71-6"><circle cx="304.7" cy="1448.9"/></g><g id="n71-7"><circle cx="370" cy="1448.9"/></g><g id="n71-8"><circle cx="403" cy="1448.9"/></g><g id="n71-9"><circle cx="435.7" cy="1448.9"/></g><g id="n71-10"><circle cx="468.3" cy="1448.9"/></g>
<g id="n72-0"><circle cx="75.7" cy="1469.2"/></g><g id="n72-1"><circle cx="108" cy="1469.2"/></g><g id="n72-2"><circle cx="141" cy="1469.2"/></g><g id="n72-3"><circle cx="206.3" cy="1469.2"/></g><g id="n72-4"><circle cx="239" cy="1469.2"/></g><g id="n72-5"><circle cx="272" cy="1469.2"/></g><g id="n72-6"><circle cx="304.7" cy="1469.2"/></g><g id="n72-7"><circle cx="370" cy="1469.2"/></g><g id="n72-8"><circle cx="403" cy="1469.2"/></g><g id="n72-9"><circle cx="435.7" cy="1469.2"/></g><g id="n72-10"><circle cx="468.3" cy="1469.2"/></g>
<g id="n73-0"><circle cx="173.7" cy="1489.4"/></g><g id="n73-1"><circle cx="206.3" cy="1489.4"/></g><g id="n73-2"><circle cx="239" cy="1489.4"/></g><g id="n73-3"><circle cx="272" cy="1489.4"/></g><g id="n73-4"><circle cx="304.7" cy="1489.4"/></g><g id="n73-5"><circle cx="337.3" cy="1489.4"/></g><g id="n73-6"><circle cx="370" cy="1489.4"/></g><g id="n73-7"><circle cx="403" cy="1489.4"/></g><g id="n73-8"><circle cx="451.3" cy="1489.4"/></g><g id="n73-9"><circle cx="484" cy="1489.4"/></g>
<g id="n74-0"><circle cx="173.7" cy="1509.7"/></g><g id="n74-1"><circle cx="206.3" cy="1509.7"/></g><g id="n74-2"><circle cx="239" cy="1509.7"/></g><g id="n74-3"><circle cx="272" cy="1509.7"/></g><g id="n74-4"><circle cx="304.7" cy="1509.7"/></g><g id="n74-5"><circle cx="337.3" cy="1509.7"/></g><g id="n74-6"><circle cx="370" cy="1509.7"/></g><g id="n74-7"><circle cx="403" cy="1509.7"/></g><g id="n74-8"><circle cx="451.3" cy="1509.7"/></g><g id="n74-9"><circle cx="484" cy="1509.7"/></g>
<g id="n75-0"><circle cx="173.7" cy="1530"/></g><g id="n75-1"><circle cx="206.3" cy="1530"/></g><g id="n75-2"><circle cx="272" cy="1530"/></g><g id="n75-3"><circle cx="304.7" cy="1530"/></g><g id="n75-4"><circle cx="337.3" cy="1530"/></g><g id="n75-5"><circle cx="370" cy="1530"/></g><g id="n75-6"><circle cx="403" cy="1530"/></g><g id="n75-7"><circle cx="467" cy="1530"/></g><g id="n75-8"><circle cx="499.7" cy="1530"/></g>
<g id="n76-0"><circle cx="173.7" cy="1550.2"/></g><g id="n76-1"><circle cx="206.3" cy="1550.2"/></g><g id="n76-2"><circle cx="272" cy="1550.2"/></g><g id="n76-3"><circle cx="304.7" cy="1550.2"/></g><g id="n76-4"><circle cx="337.3" cy="1550.2"/></g><g id="n76-5"><circle cx="370" cy="1550.2"/></g><g id="n76-6"><circle cx="403" cy="1550.2"/></g><g id="n76-7"><circle cx="467" cy="1550.2"/></g><g id="n76-8"><circle cx="499.7" cy="1550.2"/></g>
<g id="n77-0"><circle cx="173.7" cy="1570.5"/></g><g id="n77-1"><circle cx="206.3" cy="1570.5"/></g><g id="n77-2"><circle cx="239" cy="1570.5"/></g><g id="n77-3"><circle cx="304.7" cy="1570.5"/></g><g id="n77-4"><circle cx="337.3" cy="1570.5"/></g><g id="n77-5"><circle cx="370" cy="1570.5"/></g><g id="n77-6"><circle cx="403" cy="1570.5"/></g><g id="n77-7"><circle cx="499.7" cy="1570.5"/></g>
<g id="n78-0"><circle cx="173.7" cy="1590.7"/></g><g id="n78-1"><circle cx="206.3" cy="1590.7"/></g><g id="n78-2"><circle cx="239" cy="1590.7"/></g><g id="n78-3"><circle cx="304.7" cy="1590.7"/></g><g id="n78-4"><circle cx="337.3" cy="1590.7"/></g><g id="n78-5"><circle cx="370" cy="1590.7"/></g><g id="n78-6"><circle cx="403" cy="1590.7"/></g><g id="n78-7"><circle cx="499.7" cy="1590.7"/></g>
<g id="n79-0"><circle cx="206.3" cy="1611"/></g><g id="n79-1"><circle cx="239" cy="1611"/></g><g id="n79-2"><circle cx="304.7" cy="1611"/></g><g id="n79-3"><circle cx="337.3" cy="1611"/></g><g id="n79-4"><circle cx="370" cy="1611"/></g><g id="n79-5"><circle cx="403" cy="1611"/></g><g id="n79-6"><circle cx="499.7" cy="1611"/></g>
<g id="n80-0"><circle cx="206.3" cy="1631.3"/></g><g id="n80-1"><circle cx="239" cy="1631.3"/></g><g id="n80-2"><circle cx="304.7" cy="1631.3"/></g><g id="n80-3"><circle cx="337.3" cy="1631.3"/></g><g id="n80-4"><circle cx="370" cy="1631.3"/></g><g id="n80-5"><circle cx="403" cy="1631.3"/></g><g id="n80-6"><circle cx="499.7" cy="1631.3"/></g>
<g id="n81-0"><circle cx="239" cy="1651.5"/></g><g id="n81-1"><circle cx="304.7" cy="1651.5"/></g><g id="n81-2"><circle cx="337.3" cy="1651.5"/></g><g id="n81-3"><circle cx="403" cy="1651.5"/></g>
<g id="n82-0"><circle cx="239" cy="1671.8"/></g><g id="n82-1"><circle cx="304.7" cy="1671.8"/></g><g id="n82-2"><circle cx="337.3" cy="1671.8"/></g><g id="n82-3"><circle cx="403" cy="1671.8"/></g>
<g id="n83-0"><circle cx="239" cy="1692.1"/></g><g id="n83-1"><circle cx="272" cy="1692.1"/></g><g id="n83-2"><circle cx="304.7" cy="1692.1"/></g><g id="n83-3"><circle cx="337.3" cy="1692.1"/></g><g id="n83-4"><circle cx="370" cy="1692.1"/></g>
<g id="n84-0"><circle cx="239" cy="1712.3"/></g><g id="n84-1"><circle cx="272" cy="1712.3"/></g><g id="n84-2"><circle cx="304.7" cy="1712.3"/></g><g id="n84-3"><circle cx="337.3" cy="1712.3"/></g><g id="n84-4"><circle cx="370" cy="1712.3"/></g>
<g id="n85-0"><circle cx="239" cy="1732.6"/></g><g id="n85-1"><circle cx="272" cy="1732.6"/></g><g id="n85-2"><circle cx="304.7" cy="1732.6"/></g><g id="n85-3"><circle cx="337.3" cy="1732.6"/></g><g id="n85-4"><circle cx="370" cy="1732.6"/></g>
<g id="n86-0"><circle cx="239" cy="1752.9"/></g><g id="n86-1"><circle cx="272" cy="1752.9"/></g><g id="n86-2"><circle cx="304.7" cy="1752.9"/></g><g id="n86-3"><circle cx="337.3" cy="1752.9"/></g><g id="n86-4"><circle cx="370" cy="1752.9"/></g>
<g id="n87-0"><circle cx="206.3" cy="1773.1"/></g><g id="n87-1"><circle cx="239" cy="1773.1"/></g><g id="n87-2"><circle cx="272" cy="1773.1"/></g><g id="n87-3"><circle cx="304.7" cy="1773.1"/></g><g id="n87-4"><circle cx="370" cy="1773.1"/></g>
<g id="n88-0"><circle cx="206.3" cy="1793.4"/></g><g id="n88-1"><circle cx="239" cy="1793.4"/></g><g id="n88-2"><circle cx="272" cy="1793.4"/></g><g id="n88-3"><circle cx="304.7" cy="1793.4"/></g><g id="n88-4"><circle cx="370" cy="1793.4"/></g>
<g id="n89-0"><circle cx="206.3" cy="1813.7"/></g><g id="n89-1"><circle cx="239" cy="1813.7"/></g><g id="n89-2"><circle cx="272" cy="1813.7"/></g><g id="n89-3"><circle cx="304.7" cy="1813.7"/></g><g id="n89-4"><circle cx="337.3" cy="1813.7"/></g><g id="n89-5"><circle cx="370" cy="1813.7"/></g><g id="n89-6"><circle cx="403" cy="1813.7"/></g>
<g id="n90-0"><circle cx="206.3" cy="1833.9"/></g><g id="n90-1"><circle cx="239" cy="1833.9"/></g><g id="n90-2"><circle cx="272" cy="1833.9"/></g><g id="n90-3"><circle cx="304.7" cy="1833.9"/></g><g id="n90-4"><circle cx="337.3" cy="1833.9"/></g><g id="n90-5"><circle cx="370" cy="1833.9"/></g><g id="n90-6"><circle cx="403" cy="1833.9"/></g>
<g id="n91-0"><circle cx="206.3" cy="1854.2"/></g><g id="n91-1"><circle cx="239" cy="1854.2"/></g><g id="n91-2"><circle cx="272" cy="1854.2"/></g><g id="n91-3"><circle cx="337.3" cy="1854.2"/></g><g id="n91-4"><circle cx="370" cy="1854.2"/></g><g id="n91-5"><circle cx="403" cy="1854.2"/></g>
<g id="n92-0"><circle cx="206.3" cy="1874.5"/></g><g id="n92-1"><circle cx="239" cy="1874.5"/></g><g id="n92-2"><circle cx="272" cy="1874.5"/></g><g id="n92-3"><circle cx="337.3" cy="1874.5"/></g><g id="n92-4"><circle cx="370" cy="1874.5"/></g><g id="n92-5"><circle cx="403" cy="1874.5"/></g>
<g id="n93-0"><circle cx="173.7" cy="1894.7"/></g><g id="n93-1"><circle cx="206.3" cy="1894.7"/></g><g id="n93-2"><circle cx="239" cy="1894.7"/></g><g id="n93-3"><circle cx="272" cy="1894.7"/></g><g id="n93-4"><circle cx="337.3" cy="1894.7"/></g><g id="n93-5"><circle cx="370" cy="1894.7"/></g><g id="n93-6"><circle cx="403" cy="1894.7"/></g><g id="n93-7"><circle cx="435.7" cy="1894.7"/></g>
<g id="n94-0"><circle cx="173.7" cy="1915"/></g><g id="n94-1"><circle cx="206.3" cy="1915"/></g><g id="n94-2"><circle cx="239" cy="1915"/></g><g id="n94-3"><circle cx="272" cy="1915"/></g><g id="n94-4"><circle cx="337.3" cy="1915"/></g><g id="n94-5"><circle cx="370" cy="1915"/></g><g id="n94-6"><circle cx="403" cy="1915"/></g><g id="n94-7"><circle cx="435.7" cy="1915"/></g>
<g id="n95-0"><circle cx="206.3" cy="1935.3"/></g><g id="n95-1"><circle cx="239" cy="1935.3"/></g><g id="n95-2"><circle cx="272" cy="1935.3"/></g><g id="n95-3"><circle cx="337.3" cy="1935.3"/></g><g id="n95-4"><circle cx="370" cy="1935.3"/></g><g id="n95-5"><circle cx="403" cy="1935.3"/></g><g id="n95-6"><circle cx="435.7" cy="1935.3"/></g>
<g id="n96-0"><circle cx="206.3" cy="1955.5"/></g><g id="n96-1"><circle cx="239" cy="1955.5"/></g><g id="n96-2"><circle cx="272" cy="1955.5"/></g><g id="n96-3"><circle cx="337.3" cy="1955.5"/></g><g id="n96-4"><circle cx="370" cy="1955.5"/></g><g id="n96-5"><circle cx="403" cy="1955.5"/></g><g id="n96-6"><circle cx="435.7" cy="1955.5"/></g>
<g id="n97-0"><circle cx="190.7" cy="1975.8"/></g><g id="n97-1"><circle cx="223.3" cy="1975.8"/></g><g id="n97-2"><circle cx="337.3" cy="1975.8"/></g><g id="n97-3"><circle cx="403" cy="1975.8"/></g><g id="n97-4"><circle cx="435.7" cy="1975.8"/></g>
<g id="n98-0"><circle cx="190.7" cy="1996.1"/></g><g id="n98-1"><circle cx="223.3" cy="1996.1"/></g><g id="n98-2"><circle cx="337.3" cy="1996.1"/></g><g id="n98-3"><circle cx="403" cy="1996.1"/></g><g id="n98-4"><circle cx="435.7" cy="1996.1"/></g>
<g id="n99-0"><circle cx="190.7" cy="2016.3"/></g><g id="n99-1"><circle cx="223.3" cy="2016.3"/></g><g id="n99-2"><circle cx="403" cy="2016.3"/></g>
<g id="n100-0"><circle cx="190.7" cy="2036.6"/></g><g id="n100-1"><circle cx="223.3" cy="2036.6"/></g><g id="n100-2"><circle cx="403" cy="2036.6"/></g>
<g id="n101-0"><circle cx="223.3" cy="2056.9"/></g><g id="n101-1"><circle cx="403" cy="2056.9"/></g>
<g id="n102-0"><circle cx="223.3" cy="2077.1"/></g><g id="n102-1"><circle cx="403" cy="2077.1"/></g>
<g id="n103-0"><circle cx="223.3" cy="2097.4"/></g><g id="n103-1"><circle cx="354.3" cy="2097.4"/></g><g id="n103-2"><circle cx="403" cy="2097.4"/></g><g id="n103-3"><circle cx="435.7" cy="2097.4"/></g>
<g id="n104-0"><circle cx="223.3" cy="2117.7"/></g><g id="n104-1"><circle cx="346.7" cy="2117.7"/></g><g id="n104-2"><circle cx="403" cy="2117.7"/></g><g id="n104-3"><circle cx="435.7" cy="2117.7"/></g>
<g id="n105-0"><circle cx="341.3" cy="2137.9"/></g><g id="n105-1"><circle cx="374" cy="2137.9"/></g><g id="n105-2"><circle cx="407" cy="2137.9"/></g><g id="n105-3"><circle cx="439.7" cy="2137.9"/></g>
<g id="n106-0"><circle cx="341.3" cy="2158.2"/></g><g id="n106-1"><circle cx="374" cy="2158.2"/></g><g id="n106-2"><circle cx="407" cy="2158.2"/></g><g id="n106-3"><circle cx="439.7" cy="2158.2"/></g>
<g id="n107-0"><circle cx="325.7" cy="2178.5"/></g><g id="n107-1"><circle cx="358.3" cy="2178.5"/></g><g id="n107-2"><circle cx="399" cy="2178.5"/></g><g id="n107-3"><circle cx="439.7" cy="2178.5"/></g>
<g id="n108-0"><circle cx="325.7" cy="2198.7"/></g><g id="n108-1"><circle cx="358.3" cy="2198.7"/></g><g id="n108-2"><circle cx="399" cy="2198.7"/></g><g id="n108-3"><circle cx="447.3" cy="2198.7"/></g>
<g id="n109-0"><circle cx="399" cy="2219"/></g><g id="n109-1"><circle cx="447.3" cy="2219"/></g><g id="n109-2"><circle cx="480" cy="2219"/></g>
<g id="n110-0"><circle cx="399" cy="2239.3"/></g><g id="n110-1"><circle cx="447.3" cy="2239.3"/></g><g id="n110-2"><circle cx="480" cy="2239.3"/></g>
<g id="n111-0"><circle cx="397.7" cy="2259.5"/></g><g id="n111-1"><circle cx="447.3" cy="2259.5"/></g><g id="n111-2"><circle cx="481.3" cy="2259.5"/></g>
<g id="n112-0"><circle cx="395" cy="2279.8"/></g><g id="n112-1"><circle cx="447.3" cy="2279.8"/></g><g id="n112-2"><circle cx="484" cy="2279.8"/></g>
<g id="n113-0"><circle cx="391" cy="2300.1"/></g><g id="n113-1"><circle cx="447.3" cy="2300.1"/></g><g id="n113-2"><circle cx="488" cy="2300.1"/></g>
<g id="n114-0"><circle cx="383.3" cy="2320.3"/></g><g id="n114-1"><circle cx="447.3" cy="2320.3"/></g><g id="n114-2"><circle cx="496" cy="2320.3"/></g>
<g id="n115-0"><circle cx="382" cy="2340.6"/></g><g id="n115-1"><circle cx="414.7" cy="2340.6"/></g><g id="n115-2"><circle cx="447.3" cy="2340.6"/></g><g id="n115-3"><circle cx="480" cy="2340.6"/></g><g id="n115-4"><circle cx="513" cy="2340.6"/></g>
<g id="n116-0"><circle cx="382" cy="2360.9"/></g><g id="n116-1"><circle cx="414.7" cy="2360.9"/></g><g id="n116-2"><circle cx="447.3" cy="2360.9"/></g><g id="n116-3"><circle cx="480" cy="2360.9"/></g><g id="n116-4"><circle cx="513" cy="2360.9"/></g>
<g id="n117-0"><circle cx="382" cy="2381.1"/></g><g id="n117-1"><circle cx="447.3" cy="2381.1"/></g><g id="n117-2"><circle cx="480" cy="2381.1"/></g><g id="n117-3"><circle cx="513" cy="2381.1"/></g>
<g id="n118-0"><circle cx="382" cy="2401.4"/></g><g id="n118-1"><circle cx="447.3" cy="2401.4"/></g><g id="n118-2"><circle cx="480" cy="2401.4"/></g><g id="n118-3"><circle cx="513" cy="2401.4"/></g>
<g id="n119-0"><circle cx="382" cy="2421.7"/></g>
<g id="n120-0"><circle cx="382" cy="2441.9"/></g>
<g id="n121-0"><circle cx="382" cy="2462.2"/></g>
<g id="n122-0"><circle cx="382" cy="2482.5"/></g>
<g id="n123-0"><circle cx="382" cy="2502.7"/></g>
<g id="n124-0"><circle cx="382" cy="2523"/></g>
</g>
</svg>
